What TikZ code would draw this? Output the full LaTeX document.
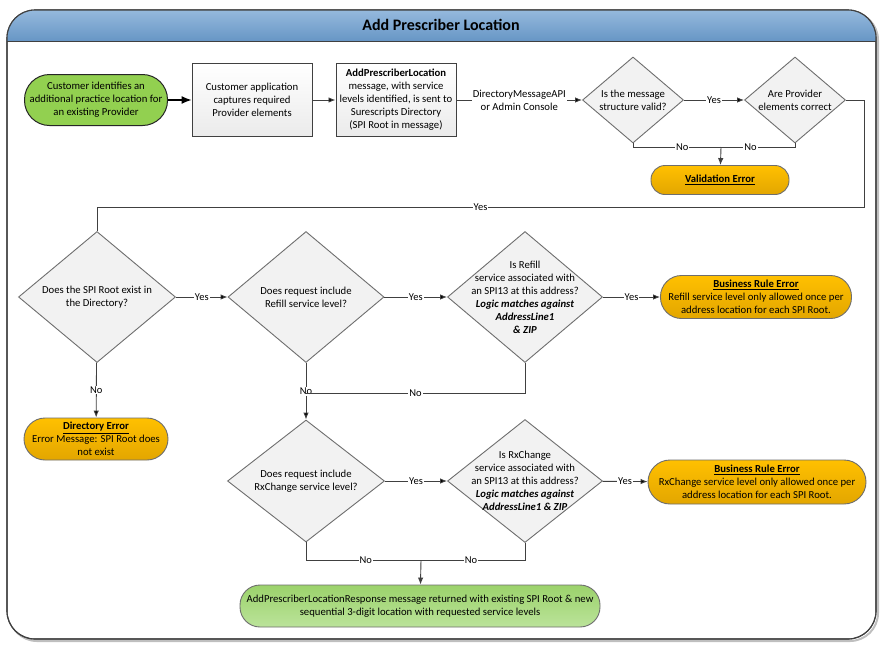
\documentclass[tikz,border=0pt]{standalone}
\usepackage{fontspec}
\setmainfont{Carlito}
\usepackage{tikz}
\usetikzlibrary{shapes.geometric, arrows.meta, calc}
\definecolor{linegray}{HTML}{404040}
\definecolor{diafill}{HTML}{F2F2F2}
\definecolor{diadraw}{HTML}{6E6E6E}
\definecolor{custgreen}{HTML}{92D050}
\definecolor{resptop}{HTML}{9BD26B}
\definecolor{respbot}{HTML}{BBE39A}
\definecolor{errtop}{HTML}{FFC000}
\definecolor{errbot}{HTML}{E3A600}
\definecolor{bartop}{HTML}{95B9DD}
\definecolor{barbot}{HTML}{6796C5}
\tikzset{>={Latex[length=7pt,width=5.5pt]}}
\tikzset{
  txt/.style={font=\fontsize{10.7}{13}\selectfont, align=center},
  lbl/.style={font=\fontsize{10.5}{12}\selectfont, fill=white, inner sep=1pt},
  startbox/.style={txt, draw=black!85, line width=1pt, fill=custgreen, rounded corners=25pt, minimum width=143pt, minimum height=51pt, inner sep=1pt},
  procbox/.style={txt, draw=linegray, line width=1pt, top color=white, bottom color=black!8, minimum width=120pt, minimum height=73pt, inner sep=1pt},
  dia/.style={diamond, draw=diadraw, line width=0.9pt, fill=diafill, inner sep=0pt},
  dtext/.style={txt, inner sep=0pt},
  errbox/.style={txt, draw=diadraw, line width=0.9pt, top color=errtop, bottom color=errbot, rounded corners=21pt, minimum height=43pt, inner sep=1pt},
  respbox/.style={txt, draw=diadraw, line width=0.9pt, top color=resptop, bottom color=respbot, rounded corners=20pt, minimum width=360pt, minimum height=42pt},
  flow/.style={draw=linegray, line width=0.9pt}
}
\begin{document}
\begin{tikzpicture}[x=1pt, y=-1pt]
\useasboundingbox (0,0) rectangle (882,646);
% frame and title bar
\draw[black!25, line width=2pt, rounded corners=28pt] (9,12) rectangle (878,641);
\draw[linegray, line width=1.1pt, fill=white, rounded corners=28pt] (7,10) rectangle (876,639);
\begin{scope}
\clip[rounded corners=28pt] (7,10) rectangle (876,639);
\shade[top color=bartop, bottom color=barbot] (7,10) rectangle (876,41);
\end{scope}
\draw[linegray, line width=1.1pt, rounded corners=28pt] (7,10) rectangle (876,639);
\draw[linegray, line width=1pt] (7,41) -- (876,41);
\node[font=\fontsize{16}{18}\selectfont\bfseries] (ttl) at (441,25) {Add Prescriber Location};

% first row
\node[startbox] (cust) at (96,100) {Customer identifies an\\additional practice location for\\an existing Provider};
\node[procbox] (capt) at (252,100) {Customer application\\captures required\\Provider elements};
\node[procbox] (msg) at (396,100) {\textbf{AddPrescriberLocation}\\message, with service\\levels identified, is sent to\\Surescripts Directory\\(SPI Root in message)};
\node[dia, minimum width=101pt, minimum height=86pt, label={[dtext]center:{Is the message\\structure valid?}}] (valid) at (633,100) {};
\node[dia, minimum width=101pt, minimum height=86pt, label={[dtext]center:{Are Provider\\elements correct}}] (prov) at (795,100) {};
\node[errbox, minimum width=138pt, minimum height=29pt, rounded corners=14pt] (valerr) at (720,180) {\textbf{\underline{Validation Error}}};

% second row
\node[dia, minimum width=157pt, minimum height=131pt, label={[dtext]center:{Does the SPI Root exist in\\the Directory?}}] (root) at (97,297) {};
\node[dia, minimum width=156pt, minimum height=131pt, label={[dtext]center:{Does request include\\Refill service level?}}] (refill) at (306,297) {};
\node[dia, minimum width=155pt, minimum height=131pt, label={[dtext]center:{Is Refill\\service associated with\\an SPI13 at this address?\\\textbf{\textit{Logic matches against}}\\\textbf{\textit{AddressLine1}}\\\textbf{\textit{\& ZIP}}}}] (refassoc) at (525,297) {};
\node[errbox, minimum width=191pt] (refrule) at (756,297) {\textbf{\underline{Business Rule Error}}\\Refill service level only allowed once per\\address location for each SPI Root.};
\node[errbox, minimum width=144pt, minimum height=42pt] (direrr) at (96,439) {\textbf{\underline{Directory Error}}\\Error Message: SPI Root does\\not exist};

% third row
\node[dia, minimum width=157pt, minimum height=122pt, label={[dtext]center:{Does request include\\RxChange service level?}}] (rxc) at (306,481) {};
\node[dia, minimum width=155pt, minimum height=123pt, label={[dtext]center:{Is RxChange\\service associated with\\an SPI13 at this address?\\\textbf{\textit{Logic matches against}}\\\textbf{\textit{AddressLine1 \& ZIP}}}}] (rxcassoc) at (525,481) {};
\node[errbox, minimum width=218pt, minimum height=44pt, rounded corners=22pt] (rxcrule) at (757,482) {\textbf{\underline{Business Rule Error}}\\RxChange service level only allowed once per\\address location for each SPI Root.};
\node[respbox] (resp) at (420,606) {AddPrescriberLocationResponse message returned with existing SPI Root \& new\\sequential 3-digit location with requested service levels};

% junctions
\coordinate (vj) at (721,147);
\coordinate (yr) at (864,207);
\coordinate (rj) at (306,393);
\coordinate (bj) at (421,560);

% connectors
\draw[line width=1.2pt, -{Latex[length=10pt,width=8pt]}] (cust) -- (capt);
\path[flow, ->]
(capt) edge (msg)
(msg) edge node[lbl, txt, inner sep=1pt] {DirectoryMessageAPI\\or Admin Console} (valid)
(valid) edge node[lbl] {Yes} (prov)
(root) edge node[lbl] {Yes} (refill)
(root) edge node[lbl] {No} (direrr)
(refill) edge node[lbl] {Yes} (refassoc)
(refill) edge node[lbl] {No} (rxc)
(refassoc) edge node[lbl] {Yes} (refrule)
(rxc) edge node[lbl] {Yes} (rxcassoc)
(rxcassoc) edge node[lbl] {Yes} (rxcrule)
;
\draw[flow] (valid.south) |- node[lbl, pos=0.78] {No} (vj);
\draw[flow] (prov.south) |- node[lbl, pos=0.8] {No} (vj);
\draw[flow, ->] (vj) -- (valerr);
\draw[flow] (prov.east) -| (yr) -- node[lbl] {Yes} (yr -| root.north) -- (root.north);
\draw[flow] (refassoc.south) |- node[lbl, pos=0.75] {No} (rj);
\draw[flow] (rxc.south) |- node[lbl, pos=0.76] {No} (bj);
\draw[flow] (rxcassoc.south) |- node[lbl, pos=0.76] {No} (bj);
\draw[flow, ->] (bj) -- (resp);
\end{tikzpicture}
\end{document}
